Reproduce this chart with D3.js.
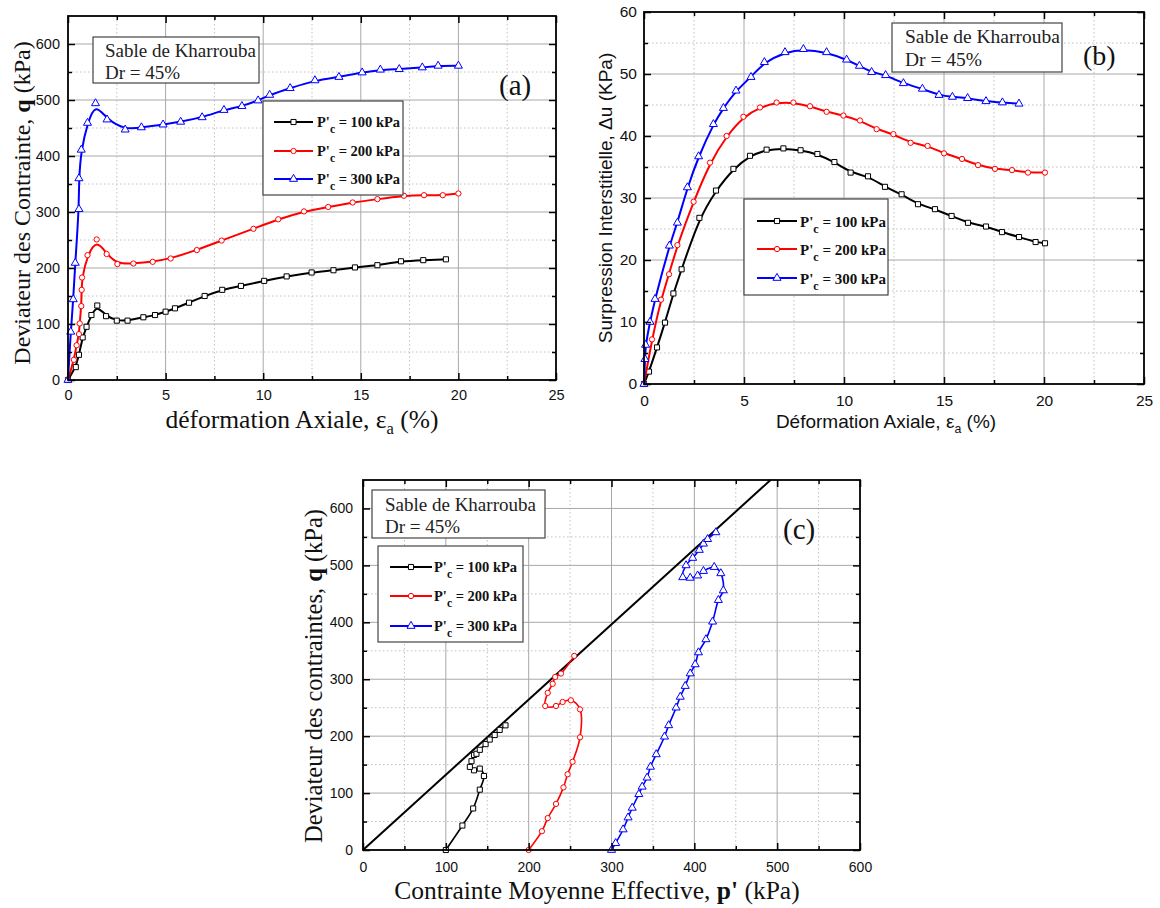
<!DOCTYPE html>
<html><head><meta charset="utf-8">
<script src="https://cdn.jsdelivr.net/npm/d3@7"></script>
<style>body{margin:0;background:#fff}svg{display:block}</style>
</head><body>
<svg id="chart" width="1160" height="908"></svg>
<script>
// ---------- DATA ----------
// Panel (a): deviator stress q (kPa) vs axial strain (%)
const aX100 = [0, 0.4, 0.56, 0.75, 0.95, 1.2, 1.5, 1.95, 2.5, 3.05, 3.86, 4.46, 5.0, 5.48, 6.2, 7.0, 7.9, 8.86, 10.05, 11.2, 12.48, 13.6, 14.7, 15.85, 17.06, 18.2, 19.36];
const aQ100 = [0, 23, 45, 76, 95, 116, 133, 114, 106, 106, 112, 116, 122, 128, 138, 150, 161, 168, 177, 185, 192, 196, 201, 205, 212, 214, 215.5];
const aX200 = [0, 0.3, 0.44, 0.56, 0.6, 0.68, 0.7, 0.72, 1.0, 1.47, 1.98, 2.53, 3.35, 4.34, 5.26, 6.6, 7.87, 9.5, 10.77, 12.09, 13.33, 14.58, 15.85, 17.21, 18.24, 19.2, 20.0];
const aQ200 = [0, 36, 62, 82, 101, 132, 161, 183, 223, 251, 225, 207, 208, 211, 217, 232, 249, 270, 287, 301, 309, 317, 323, 329, 330, 330, 333];
const aX300 = [0, 0.14, 0.27, 0.37, 0.56, 0.56, 0.68, 1.0, 1.41, 2.0, 2.93, 3.76, 4.87, 5.77, 6.87, 7.99, 8.91, 9.74, 10.33, 11.38, 12.65, 13.88, 15.07, 16.0, 16.97, 18.15, 18.96, 20.0];
const aQ300 = [0, 86, 144, 209, 305, 360, 411, 459, 494, 465, 447, 451, 456, 461, 469, 482, 489, 499, 509, 521, 535, 541, 549, 554, 555, 558, 561, 561];

// Panel (b): excess pore pressure du (kPa) vs axial strain (%)
const bX100 = [0, 0.25, 0.65, 1.05, 1.47, 1.88, 2.77, 3.6, 4.47, 5.3, 6.13, 6.97, 7.83, 8.67, 9.52, 10.33, 11.2, 12.05, 12.88, 13.7, 14.55, 15.38, 16.2, 17.1, 17.9, 18.75, 19.58, 20.05];
const bU100 = [0, 2.0, 5.9, 9.9, 14.6, 18.5, 26.8, 31.2, 34.7, 36.8, 37.8, 38.0, 37.7, 37.1, 35.8, 34.1, 33.5, 31.8, 30.6, 29.0, 28.2, 27.1, 26.0, 25.4, 24.5, 23.7, 22.9, 22.7];
const bX200 = [0, 0.4, 0.85, 1.25, 1.67, 2.48, 3.3, 4.13, 4.97, 5.8, 6.63, 7.47, 8.3, 9.13, 9.97, 10.8, 11.63, 12.47, 13.33, 14.18, 15.0, 15.9, 16.7, 17.55, 18.4, 19.2, 20.05];
const bU200 = [0, 7.2, 13.6, 17.7, 22.4, 29.4, 35.7, 40.0, 43.1, 44.6, 45.4, 45.4, 44.8, 43.9, 43.3, 42.5, 41.1, 40.3, 38.9, 38.4, 37.2, 36.3, 35.3, 34.7, 34.5, 34.1, 34.1];
const bX300 = [0, 0.05, 0.08, 0.3, 0.55, 1.27, 1.67, 2.17, 2.73, 3.47, 3.97, 4.6, 5.35, 6.02, 7.05, 7.97, 9.13, 10.13, 10.77, 11.38, 12.08, 12.97, 13.92, 14.75, 15.42, 16.18, 17.1, 17.92, 18.75];
const bU300 = [0, 4.0, 6.3, 10.0, 13.7, 22.3, 26.0, 31.7, 36.7, 41.9, 44.5, 47.3, 49.5, 51.9, 53.5, 54.0, 53.5, 52.3, 51.3, 50.3, 49.8, 48.5, 47.6, 46.6, 46.3, 46.1, 45.6, 45.4, 45.2];

// Panel (c): q vs p' (kPa)
const cP100 = [100, 120, 133, 141, 146, 141, 134, 129, 131, 134, 137, 141, 148, 153, 159, 165, 172];
const cQ100 = [0, 43, 73, 106, 130, 143, 140, 146, 156, 167, 169, 176, 186, 194, 202, 211, 219];
const cP200 = [200, 216, 223, 233, 242, 247, 253, 262, 262, 251, 241, 233, 220, 223, 229, 232, 239, 255];
const cQ200 = [0, 33, 56, 81, 110, 133, 155, 198, 247, 263, 260, 253, 253, 276, 292, 304, 310, 341];
const cP300 = [300, 305, 314, 320, 325, 333, 337, 343, 347, 354, 364, 369, 378, 383, 389, 395, 401, 405, 414, 422, 429, 435, 432, 424, 411, 404, 395, 386, 390, 398, 406, 411, 416, 426];
const cQ300 = [0, 12, 36, 57, 74, 98, 111, 127, 146, 168, 199, 219, 250, 269, 288, 310, 326, 347, 370, 401, 439, 456, 486, 497, 490, 482, 478, 479, 500, 513, 527, 538, 546, 558];
const csP = [0, 492];
const csQ = [0, 650];

// Ticks and labels
const strainTicks = [0, 5, 10, 15, 20, 25];
const qTicks = [0, 100, 200, 300, 400, 500, 600];
const duTicks = [0, 10, 20, 30, 40, 50, 60];
const pTicks = [0, 100, 200, 300, 400, 500, 600];
const pressures = ["100", "200", "300"];
const infoLines = ["Sable de Kharrouba", "Dr = 45%"];

// ---------- DRAW ----------
const SANS = "'Liberation Sans', Arial, Helvetica, sans-serif";
const SERIF = "'Liberation Serif', 'Times New Roman', Times, serif";
const colors = ["#000000", "#ff0000", "#0000ff"];
const symbols = [d3.symbol(d3.symbolSquare, 26), d3.symbol(d3.symbolCircle, 22), d3.symbol(d3.symbolTriangle, 28)];
const svg = d3.select("#chart");

function drawPanel(P) {
  const [L, T, R, B] = P.box;
  const g = svg.append("g");
  const x = d3.scaleLinear().domain(P.xDomain).range([L, R]);
  const y = d3.scaleLinear().domain(P.yDomain).range([B, T]);
  const xs = P.xTicks[1] - P.xTicks[0], ys = P.yTicks[1] - P.yTicks[0];
  const xMinor = d3.range(P.xTicks[0] + xs / 2, P.xDomain[1], xs);
  const yMinor = d3.range(P.yTicks[0] + ys / 2, P.yDomain[1], ys);
  const xMaj = P.xTicks.filter(v => v > P.xDomain[0] && v < P.xDomain[1]);
  const yMaj = P.yTicks.filter(v => v > P.yDomain[0] && v < P.yDomain[1]);

  // grid
  const grid = g.append("g");
  grid.selectAll(".xmin").data(xMinor).join("line")
    .attr("x1", d => x(d)).attr("x2", d => x(d)).attr("y1", T).attr("y2", B)
    .attr("stroke", "#c0c0c0").attr("stroke-width", 1).attr("stroke-dasharray", "1.5,2.5");
  grid.selectAll(".ymin").data(yMinor).join("line")
    .attr("y1", d => y(d)).attr("y2", d => y(d)).attr("x1", L).attr("x2", R)
    .attr("stroke", "#c0c0c0").attr("stroke-width", 1).attr("stroke-dasharray", "1.5,2.5");
  grid.selectAll(".xmaj").data(xMaj).join("line")
    .attr("x1", d => x(d)).attr("x2", d => x(d)).attr("y1", T).attr("y2", B)
    .attr("stroke", "#a8a8a8").attr("stroke-width", 1);
  grid.selectAll(".ymaj").data(yMaj).join("line")
    .attr("y1", d => y(d)).attr("y2", d => y(d)).attr("x1", L).attr("x2", R)
    .attr("stroke", "#a8a8a8").attr("stroke-width", 1);

  // extra lines (critical state line)
  (P.extra || []).forEach(e => {
    g.append("path").datum(d3.zip(e.x, e.y))
      .attr("d", d3.line().x(d => x(d[0])).y(d => y(d[1])))
      .attr("fill", "none").attr("stroke", "#000").attr("stroke-width", 2);
  });

  // series
  P.series.forEach((s, i) => {
    const pts = d3.zip(s.x, s.y);
    g.append("path").datum(pts)
      .attr("d", d3.line().x(d => x(d[0])).y(d => y(d[1])).curve(P.curve))
      .attr("fill", "none").attr("stroke", colors[i]).attr("stroke-width", P.lw);
    g.append("g").selectAll("path").data(pts).join("path")
      .attr("transform", d => `translate(${x(d[0])},${y(d[1])})`)
      .attr("d", symbols[i]())
      .attr("fill", "#fff").attr("stroke", colors[i]).attr("stroke-width", 1);
  });

  // axes (inward ticks on all four sides)
  const styleAxis = s => { s.select(".domain").remove(); s.selectAll("line").attr("stroke-width", 1.5); s.attr("font-family", SANS).attr("font-size", P.tickFont); s.selectAll("text").attr("fill", "#111"); };
  g.append("g").attr("transform", `translate(0,${B})`)
    .call(d3.axisBottom(x).tickValues(P.xTicks).tickSizeInner(-7).tickSizeOuter(0).tickPadding(P.xPad)).call(styleAxis);
  g.append("g").attr("transform", `translate(0,${B})`)
    .call(d3.axisBottom(x).tickValues(xMinor).tickSizeInner(-4).tickSizeOuter(0).tickFormat("")).call(styleAxis);
  g.append("g").attr("transform", `translate(0,${T})`)
    .call(d3.axisTop(x).tickValues(P.xTicks).tickSizeInner(-7).tickSizeOuter(0).tickFormat("")).call(styleAxis);
  g.append("g").attr("transform", `translate(0,${T})`)
    .call(d3.axisTop(x).tickValues(xMinor).tickSizeInner(-4).tickSizeOuter(0).tickFormat("")).call(styleAxis);
  g.append("g").attr("transform", `translate(${L},0)`)
    .call(d3.axisLeft(y).tickValues(P.yTicks).tickSizeInner(-7).tickSizeOuter(0).tickPadding(P.yPad)).call(styleAxis);
  g.append("g").attr("transform", `translate(${L},0)`)
    .call(d3.axisLeft(y).tickValues(yMinor).tickSizeInner(-4).tickSizeOuter(0).tickFormat("")).call(styleAxis);
  g.append("g").attr("transform", `translate(${R},0)`)
    .call(d3.axisRight(y).tickValues(P.yTicks).tickSizeInner(-7).tickSizeOuter(0).tickFormat("")).call(styleAxis);
  g.append("g").attr("transform", `translate(${R},0)`)
    .call(d3.axisRight(y).tickValues(yMinor).tickSizeInner(-4).tickSizeOuter(0).tickFormat("")).call(styleAxis);

  // frame
  g.append("rect").attr("x", L).attr("y", T).attr("width", R - L).attr("height", B - T)
    .attr("fill", "none").attr("stroke", "#000").attr("stroke-width", 1.8);

  // axis titles
  const xt = g.append("text").attr("x", P.xTitle.cx).attr("y", P.xTitle.y)
    .attr("text-anchor", "middle").attr("font-family", P.titleFont).attr("font-size", P.xTitle.size).attr("fill", "#111");
  P.xTitle.parts.forEach(p => xt.append("tspan").text(p.t)
    .attr("font-weight", p.b ? "bold" : null).attr("font-size", p.sub ? P.xTitle.size * 0.65 : null)
    .attr("dy", p.dy || null));
  const yt = g.append("text").attr("transform", `translate(${P.yTitle.x},${P.yTitle.cy}) rotate(-90)`)
    .attr("text-anchor", "middle").attr("font-family", P.titleFont).attr("font-size", P.yTitle.size).attr("fill", "#111");
  P.yTitle.parts.forEach(p => yt.append("tspan").text(p.t)
    .attr("font-weight", p.b ? "bold" : null));

  // info box
  const ib = P.info;
  g.append("rect").attr("x", ib.box[0]).attr("y", ib.box[1]).attr("width", ib.box[2] - ib.box[0]).attr("height", ib.box[3] - ib.box[1])
    .attr("fill", "#fff").attr("stroke", "#444").attr("stroke-width", 1.2);
  infoLines.forEach((t, i) => g.append("text").attr("x", ib.tx).attr("y", ib.ty[i]).text(t)
    .attr("font-family", SERIF).attr("font-size", ib.size).attr("fill", "#222"));

  // legend
  const lg = P.legend;
  g.append("rect").attr("x", lg.box[0]).attr("y", lg.box[1]).attr("width", lg.box[2] - lg.box[0]).attr("height", lg.box[3] - lg.box[1])
    .attr("fill", "#fff").attr("stroke", "#444").attr("stroke-width", 1.2);
  pressures.forEach((pr, i) => {
    const yy = lg.rows[i];
    g.append("line").attr("x1", lg.l0).attr("x2", lg.l1).attr("y1", yy).attr("y2", yy)
      .attr("stroke", colors[i]).attr("stroke-width", 2);
    g.append("path").attr("transform", `translate(${(lg.l0 + lg.l1) / 2},${yy})`).attr("d", symbols[i]())
      .attr("fill", "#fff").attr("stroke", colors[i]).attr("stroke-width", 1);
    const t = g.append("text").attr("x", lg.tx).attr("y", yy + lg.base)
      .attr("font-family", SERIF).attr("font-weight", "bold").attr("font-size", lg.size).attr("fill", "#111");
    t.append("tspan").text("P'");
    t.append("tspan").text("c").attr("dy", 6).attr("font-size", lg.size * 0.8);
    t.append("tspan").text(` = ${pr} kPa`).attr("dy", -6);
  });

  // panel letter
  g.append("text").attr("x", P.letter.x).attr("y", P.letter.y).text(P.letter.t)
    .attr("font-family", SERIF).attr("font-size", P.letter.size).attr("fill", "#111");
}

drawPanel({
  box: [68, 16, 556, 380], xDomain: [0, 25], yDomain: [0, 650],
  xTicks: strainTicks, yTicks: qTicks, tickFont: 14.5, xPad: 10, yPad: 8,
  curve: d3.curveBasis, lw: 2,
  series: [{x: aX100, y: aQ100}, {x: aX200, y: aQ200}, {x: aX300, y: aQ300}],
  titleFont: SERIF,
  xTitle: {cx: 302, y: 428, size: 25.5, parts: [{t: "déformation Axiale, "}, {t: "ε"}, {t: "a", sub: true, dy: 6}, {t: " (%)", dy: -6}]},
  yTitle: {x: 30, cy: 203, size: 24, parts: [{t: "Deviateur des Contrainte, "}, {t: "q", b: true}, {t: " (kPa)"}]},
  info: {box: [93, 37, 259, 83], tx: 105, ty: [57, 79], size: 19},
  legend: {box: [263, 101, 403, 195], rows: [122, 151, 179], l0: 274, l1: 313, tx: 317, base: 5, size: 14.5},
  letter: {t: "(a)", x: 499, y: 95, size: 29}
});

drawPanel({
  box: [644, 12, 1144, 384], xDomain: [0, 25], yDomain: [0, 60],
  xTicks: strainTicks, yTicks: duTicks, tickFont: 15.5, xPad: 11, yPad: 7,
  curve: d3.curveBasis, lw: 2,
  series: [{x: bX100, y: bU100}, {x: bX200, y: bU200}, {x: bX300, y: bU300}],
  titleFont: SANS,
  xTitle: {cx: 886, y: 428, size: 19, parts: [{t: "Déformation Axiale, "}, {t: "ε"}, {t: "a", sub: true, dy: 5}, {t: " (%)", dy: -5}]},
  yTitle: {x: 612, cy: 198, size: 19, parts: [{t: "Surpression Interstitielle, Δu (KPa)"}]},
  info: {box: [892, 23, 1062, 72], tx: 905, ty: [43, 66], size: 19.5},
  legend: {box: [744, 199, 888, 295], rows: [221, 249, 278], l0: 757, l1: 797, tx: 800, base: 6, size: 15},
  letter: {t: "(b)", x: 1083, y: 65, size: 28}
});

drawPanel({
  box: [363, 480, 860, 850], xDomain: [0, 600], yDomain: [0, 650],
  xTicks: pTicks, yTicks: qTicks, tickFont: 14, xPad: 12, yPad: 10,
  curve: d3.curveCatmullRom.alpha(0.5), lw: 1.6,
  series: [{x: cP100, y: cQ100}, {x: cP200, y: cQ200}, {x: cP300, y: cQ300}],
  extra: [{x: csP, y: csQ}],
  titleFont: SERIF,
  xTitle: {cx: 597, y: 899, size: 25.5, parts: [{t: "Contrainte Moyenne Effective, "}, {t: "p'", b: true}, {t: " (kPa)"}]},
  yTitle: {x: 322, cy: 676, size: 24.5, parts: [{t: "Deviateur des contraintes, "}, {t: "q", b: true}, {t: " (kPa)"}]},
  info: {box: [372, 490, 545, 538], tx: 385, ty: [511, 533], size: 19},
  legend: {box: [378, 546, 523, 642], rows: [567, 596, 626], l0: 390, l1: 432, tx: 434, base: 5, size: 14.5},
  letter: {t: "(c)", x: 783, y: 539, size: 29}
});
</script>
</body></html>
